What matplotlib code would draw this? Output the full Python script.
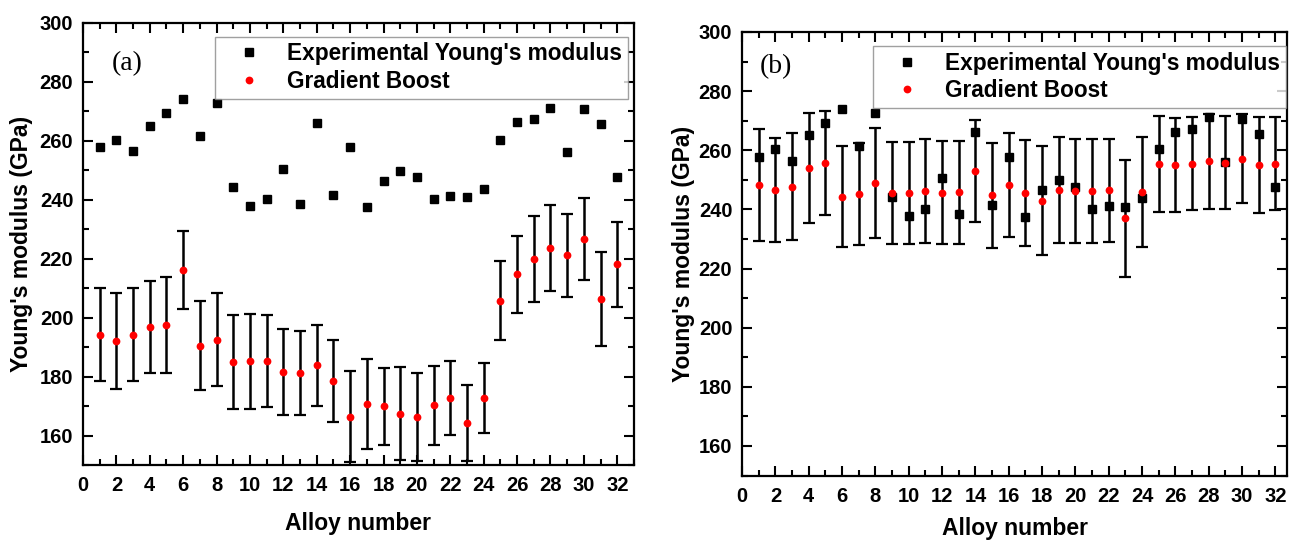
import matplotlib
matplotlib.use("Agg")
import matplotlib.pyplot as plt
from matplotlib.ticker import MultipleLocator

plt.rcParams['font.family'] = ['Liberation Sans', 'DejaVu Sans']
plt.rcParams['font.weight'] = 'bold'

alloy = list(range(1, 33))

# experimental Young's modulus (GPa), same in both panels
exp_E = [257.8, 260.3, 256.5, 265.0, 269.2, 274.0, 261.5, 272.6, 244.1, 237.9,
         240.2, 250.5, 238.5, 266.1, 241.4, 257.8, 237.3, 246.4, 249.8, 247.7,
         240.2, 241.3, 240.7, 243.7, 260.3, 266.3, 267.2, 271.1, 256.1, 270.6,
         265.5, 247.6]

# panel (a) gradient boost prediction and error
gb_a = [194.2, 192.0, 194.2, 196.7, 197.6, 216.1, 190.5, 192.5, 185.0, 185.1,
        185.2, 181.4, 181.2, 183.8, 178.6, 166.4, 170.6, 169.9, 167.4, 166.3,
        170.2, 172.7, 164.3, 172.8, 205.7, 214.6, 219.9, 223.6, 221.1, 226.6,
        206.3, 218.1]
err_a = [15.8, 16.25, 15.7, 15.6, 16.3, 13.2, 14.95, 15.8, 15.85, 16.15,
         15.6, 14.55, 14.4, 13.7, 13.9, 15.4, 15.25, 12.95, 15.75, 15.05,
         13.4, 12.45, 12.95, 11.95, 13.45, 12.95, 14.55, 14.6, 14.15, 13.85,
         15.95, 14.4]

# panel (b)
gb_b = [248.3, 246.6, 247.6, 254.0, 255.6, 244.3, 245.2, 249.0, 245.6, 245.4,
        246.2, 245.7, 245.8, 252.9, 244.8, 248.2, 245.4, 242.9, 246.5, 246.3,
        246.3, 246.4, 237.0, 245.8, 255.3, 255.0, 255.4, 256.2, 255.8, 257.2,
        255.0, 255.5]
err_b = [18.9, 17.55, 18.1, 18.5, 17.6, 17.15, 17.4, 18.55, 17.3, 17.25,
         17.45, 17.35, 17.35, 17.3, 17.8, 17.5, 17.9, 18.4, 17.9, 17.5,
         17.55, 17.3, 19.8, 18.65, 16.25, 15.95, 15.75, 16.0, 15.65, 15.2,
         16.2, 15.65]


def panel(fig, rect, gb, err, tag, xmax, tagpos, legpos, xpad, ypad):
    ax = fig.add_axes(rect)
    ax.errorbar(alloy, gb, yerr=err, fmt='none', ecolor='black',
                elinewidth=1.8, capsize=4.5, capthick=1.6, zorder=2)
    ax.plot(alloy, exp_E, 's', color='black', ms=5.4, zorder=3,
            label="Experimental Young's modulus")
    ax.plot(alloy, gb, 'o', color='#ff0000', ms=5.6, mec='none', zorder=4,
            label='Gradient Boost')

    ax.set_xlim(0, xmax)
    ax.set_ylim(150, 300)
    ax.xaxis.set_major_locator(MultipleLocator(2))
    ax.xaxis.set_minor_locator(MultipleLocator(1))
    ax.yaxis.set_major_locator(MultipleLocator(20))
    ax.yaxis.set_minor_locator(MultipleLocator(10))
    ax.tick_params(which='both', direction='in', top=True, right=True,
                   width=1.5, labelsize=14.5)
    ax.tick_params(which='major', length=7)
    ax.tick_params(which='minor', length=4)
    ax.tick_params(axis='x', pad=8)
    ax.tick_params(axis='y', pad=7)
    for s in ax.spines.values():
        s.set_linewidth(1.6)

    ax.set_xlabel('Alloy number', fontsize=16.5, fontweight='bold',
                  labelpad=xpad)
    ax.set_ylabel("Young's modulus (GPa)", fontsize=16.5, fontweight='bold',
                  labelpad=ypad)

    ax.text(tagpos[0], tagpos[1], tag, transform=ax.transAxes,
            family='Liberation Serif', fontweight='normal', fontsize=20,
            va='top', ha='left')

    leg = ax.legend(loc='upper right', bbox_to_anchor=legpos,
                    prop={'weight': 'bold', 'size': 16.3}, frameon=True,
                    fancybox=False, handlelength=2.5, handletextpad=0.45,
                    labelspacing=0.2, borderpad=0.25, borderaxespad=0)
    leg.get_frame().set_edgecolor('#888888')
    leg.get_frame().set_linewidth(1.0)
    return ax


def main():
    fig = plt.figure(figsize=(12.93, 5.43), dpi=100)
    panel(fig, [0.0642, 0.1436, 0.4261, 0.8149], gb_a, err_a, '(a)', 33,
          (0.052, 0.936), (0.989, 0.968), 12, 5)
    panel(fig, [0.5739, 0.1243, 0.4215, 0.8168], gb_b, err_b, '(b)', 32.7,
          (0.033, 0.95), (0.998, 0.968), 8, 3)
    fig.savefig('out.png', dpi=100)


if __name__ == '__main__':
    main()
